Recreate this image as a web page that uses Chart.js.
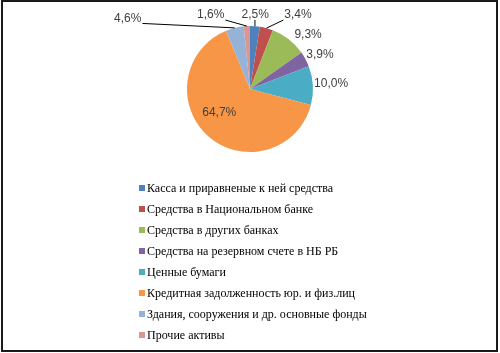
<!DOCTYPE html>
<html>
<head>
<meta charset="utf-8">
<script src="https://cdn.jsdelivr.net/npm/chart.js@4"></script>
<style>
  body { margin: 0; background: #fff; }
  #frame { position: absolute; left: 1px; top: 0; width: 497px; height: 352px; box-sizing: border-box; border: 2px solid #1a1a1a; }
  #pie { position: absolute; left: 0; top: 0; }
  #legend { position: absolute; left: 139px; top: 178px; margin: 0; padding: 0; list-style: none;
            font-family: "Liberation Serif", serif; font-size: 12px; color: #000; }
  #legend li { height: 21px; line-height: 21px; white-space: nowrap; }
  #legend span { display: inline-block; width: 6px; height: 6px; margin-right: 2px; vertical-align: 1px; }
</style>
</head>
<body>
<div id="frame"></div>
<canvas id="pie" width="500" height="180"></canvas>
<ul id="legend"></ul>
<script>
const categories = [
    'Касса и приравненые к ней средства',
    'Средства в Национальном банке',
    'Средства в других банках',
    'Средства на резервном счете в НБ РБ',
    'Ценные бумаги',
    'Кредитная задолженность юр. и физ.лиц',
    'Здания, сооружения и др. основные фонды',
    'Прочие активы'
];
const shares = [2.5, 3.4, 9.3, 3.9, 10.0, 64.7, 4.6, 1.6];
const colors = ['#4F81BD', '#C0504D', '#9BBB59', '#8064A2', '#4BACC6', '#F79646', '#95B3D7', '#DA9694'];

// where each data label sits: [angle in degrees, distance as a share of the radius]
const labelSpots = [[-86, 1.18], [-57, 1.40], [-43, 1.26], [-26, 1.235], [-3.5, 1.29], [142, 0.62], [-150, 2.24], [-118, 1.33]];

const fmt = v => v.toFixed(1).replace('.', ',') + '%';

// pie labels with leader lines
const pieLabels = {
    id: 'pieLabels',
    afterDatasetsDraw(chart) {
        const ctx = chart.ctx;
        const meta = chart.getDatasetMeta(0);
        ctx.save();
        ctx.font = '12px "Liberation Sans", sans-serif';
        ctx.textAlign = 'center';
        ctx.textBaseline = 'middle';
        meta.data.forEach((arc, i) => {
            const p = arc.getProps(['x', 'y', 'startAngle', 'endAngle', 'outerRadius'], true);
            const r = p.outerRadius;
            const a = labelSpots[i][0] * Math.PI / 180;
            const lx = p.x + Math.cos(a) * r * labelSpots[i][1];
            const ly = p.y + Math.sin(a) * r * labelSpots[i][1];
            const text = fmt(shares[i]);
            const w = ctx.measureText(text).width;
            if (labelSpots[i][1] > 1) {
                const mid = (p.startAngle + p.endAngle) / 2;
                const ax = p.x + Math.cos(mid) * r;
                const ay = p.y + Math.sin(mid) * r;
                const bx = Math.min(Math.max(ax, lx - w / 2 - 1), lx + w / 2 + 1);
                const by = Math.min(Math.max(ay, ly - 5), ly + 5);
                if (Math.hypot(ax - bx, ay - by) > 5) {
                    ctx.strokeStyle = '#000';
                    ctx.lineWidth = 1;
                    ctx.beginPath();
                    ctx.moveTo(bx, by);
                    ctx.lineTo(ax, ay);
                    ctx.stroke();
                }
            }
            ctx.fillStyle = '#404040';
            ctx.fillText(text, lx, ly);
        });
        ctx.restore();
    }
};

new Chart(document.getElementById('pie'), {
    type: 'pie',
    data: {
        labels: categories,
        datasets: [{
            data: shares,
            backgroundColor: colors,
            borderWidth: 0
        }]
    },
    options: {
        responsive: false,
        animation: false,
        layout: { padding: { top: 26, bottom: 28 } },
        plugins: {
            legend: { display: false },
            tooltip: { enabled: false }
        }
    },
    plugins: [pieLabels]
});

// legend below the pie
const legend = document.getElementById('legend');
categories.forEach((name, i) => {
    const li = document.createElement('li');
    const box = document.createElement('span');
    box.style.background = colors[i];
    li.appendChild(box);
    li.appendChild(document.createTextNode(name));
    legend.appendChild(li);
});
</script>
</body>
</html>
